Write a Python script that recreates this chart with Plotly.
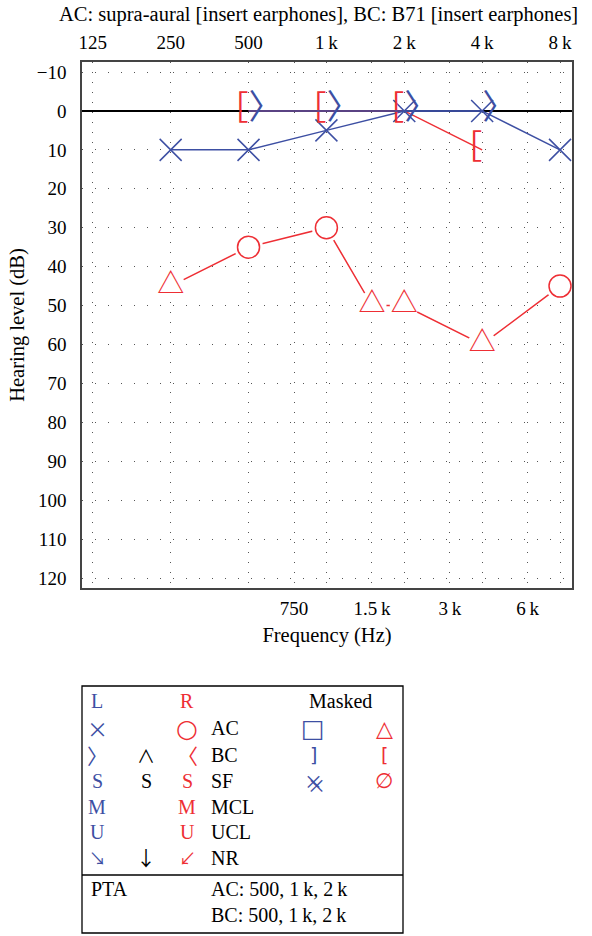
import math
import plotly.graph_objects as go

# ---------------- data ----------------
title_text = "AC: supra-aural [insert earphones], BC: B71 [insert earphones]"
top_tick_freqs = [125, 250, 500, 1000, 2000, 4000, 8000]
top_tick_labels = ["125", "250", "500", "1\u2009k", "2\u2009k", "4\u2009k", "8\u2009k"]
bottom_tick_freqs = [750, 1500, 3000, 6000]
bottom_tick_labels = ["750", "1.5\u2009k", "3\u2009k", "6\u2009k"]
y_ticks = list(range(-10, 121, 10))

# Left ear, air conduction, unmasked (X)
left_ac_freq = [250, 500, 1000, 2000, 4000, 8000]
left_ac_db = [10, 10, 5, 0, 0, 10]
# Left ear, bone conduction, unmasked (>)
left_bc_freq = [500, 1000, 2000, 4000]
left_bc_db = [0, 0, 0, 0]
# Right ear, air conduction (O unmasked, triangle masked)
right_ac_freq = [250, 500, 1000, 1500, 2000, 4000, 8000]
right_ac_db = [45, 35, 30, 50, 50, 60, 45]
right_ac_masked = [True, False, False, True, True, True, False]
# Right ear, bone conduction, masked ([)
right_bc_freq = [500, 1000, 2000, 4000]
right_bc_db = [0, 0, 0, 10]

BLUE = "#3d4fa3"
RED = "#ee2e34"
SERIF = "Liberation Serif"
SYM = "DejaVu Sans"
CJK = "Noto Sans CJK JP"

fig = go.Figure()

# lines
fig.add_trace(go.Scatter(x=left_bc_freq, y=left_bc_db, mode="lines",
                         line=dict(color=BLUE, width=1.5), hoverinfo="skip", xaxis="x2"))
fig.add_trace(go.Scatter(x=right_bc_freq, y=right_bc_db, mode="lines",
                         line=dict(color=RED, width=1.5), hoverinfo="skip"))
fig.add_trace(go.Scatter(x=left_ac_freq, y=left_ac_db, mode="lines",
                         line=dict(color=BLUE, width=1.5), hoverinfo="skip"))
fig.add_trace(go.Scatter(x=right_ac_freq, y=right_ac_db, mode="lines",
                         line=dict(color=RED, width=1.5), hoverinfo="skip"))

# white halo around right-ear AC symbols: lines stop short of the symbols
fig.add_trace(go.Scatter(x=right_ac_freq, y=right_ac_db, mode="markers",
                         marker=dict(symbol="circle", size=29, color="white",
                                     line=dict(width=0)), hoverinfo="skip"))

# markers
fig.add_trace(go.Scatter(x=left_ac_freq, y=left_ac_db, mode="markers",
                         marker=dict(symbol="x-thin-open", size=22, color=BLUE,
                                     line=dict(color=BLUE, width=1.5))))
ac_o_f = [f for f, m in zip(right_ac_freq, right_ac_masked) if not m]
ac_o_v = [v for v, m in zip(right_ac_db, right_ac_masked) if not m]
ac_t_f = [f for f, m in zip(right_ac_freq, right_ac_masked) if m]
ac_t_v = [v for v, m in zip(right_ac_db, right_ac_masked) if m]
fig.add_trace(go.Scatter(x=ac_o_f, y=ac_o_v, mode="markers",
                         marker=dict(symbol="circle", size=22, color="white",
                                     line=dict(color=RED, width=1.5))))
fig.add_trace(go.Scatter(x=ac_t_f, y=ac_t_v, mode="text",
                         text=["\u25b3"] * len(ac_t_f), textposition="middle center",
                         textfont=dict(family=CJK, size=27, color=RED)))
fig.add_trace(go.Scatter(x=left_bc_freq, y=left_bc_db, mode="text",
                         text=["\u3009"] * len(left_bc_freq), textposition="middle right",
                         textfont=dict(family=CJK, size=34, color=BLUE)))
fig.add_trace(go.Scatter(x=right_bc_freq, y=right_bc_db, mode="text",
                         text=["\uff3b"] * len(right_bc_freq), textposition="middle left",
                         textfont=dict(family=CJK, size=32, color=RED)))

# ---------------- layout ----------------
L, R, T, B = 82, 572, 62, 588
W, H = 592, 936
xr = [math.log10(125) - 0.0417, math.log10(8000) + 0.0463]

fig.update_layout(
    width=W, height=H,
    margin=dict(l=L, r=W - R, t=T, b=H - B),
    paper_bgcolor="white", plot_bgcolor="white",
    showlegend=False,
    font=dict(family=SERIF, size=19, color="black"),
    xaxis=dict(type="log", range=xr, tickvals=bottom_tick_freqs, ticktext=bottom_tick_labels,
               showline=True, linecolor="#444444", linewidth=1.5, mirror=False,
               ticks="", tickfont=dict(size=19), ticklabelstandoff=2,
               title=dict(text="Frequency (Hz)", font=dict(size=20.5), standoff=10),
               zeroline=False, showgrid=True, gridcolor="#555555", griddash="1px,9px"),
    xaxis2=dict(type="log", range=xr, overlaying="x", side="top",
                tickvals=top_tick_freqs, ticktext=top_tick_labels,
                showline=True, linecolor="#444444", linewidth=1.5,
                ticks="", tickfont=dict(size=19), ticklabelstandoff=4,
                zeroline=False, showgrid=True, gridcolor="#555555", griddash="1px,9px"),
    yaxis=dict(range=[122.57, -12.57], tickvals=y_ticks,
               showline=True, linecolor="#444444", linewidth=1.5, mirror=True,
               ticks="", tickfont=dict(size=19), ticklabelstandoff=10,
               zeroline=True, zerolinecolor="black", zerolinewidth=1.5,
               title=dict(text="Hearing level (dB)", font=dict(size=20.5), standoff=7),
               showgrid=True, gridcolor="#555555", griddash="1px,12px"),
)


def px(x):
    return (x - L) / (R - L)


def py(y):
    return (B - y) / (B - T)


anns = []


def ann(x, y, text, color="black", size=20, family=SERIF, xanchor="center"):
    anns.append(dict(x=px(x), y=py(y), xref="paper", yref="paper", text=text,
                     showarrow=False, xanchor=xanchor, yanchor="middle",
                     font=dict(family=family, size=size, color=color)))


ann(318, 15, title_text, size=20.5)

# legend table
rows_y = [701, 728, 755, 781, 807, 832, 858]
col_l, col_mid, col_r, col_txt, col_mb, col_mr = 97, 146, 187, 209, 313, 384

legend_labels = ["", "AC", "BC", "SF", "MCL", "UCL", "NR"]
left_syms = [("L", SERIF, 20), ("\u00d7", CJK, 21), ("\u3009", CJK, 21), ("S", SERIF, 20),
             ("M", SERIF, 20), ("U", SERIF, 20), ("\u2198", CJK, 17)]
mid_syms = [None, None, ("\u2227", CJK, 18), ("S", SERIF, 20), None, None, ("\u2193", CJK, 20)]
right_syms = [("R", SERIF, 20), ("\u25cb", SYM, 25), ("\u3008", CJK, 21), ("S", SERIF, 20),
              ("M", SERIF, 20), ("U", SERIF, 20), ("\u2199", CJK, 17)]
masked_left = [None, ("\u25a1", SYM, 25), ("]", SYM, 19), ("\u00d7", CJK, 19), None, None, None]
masked_right = [None, ("\u25b3", SYM, 22), ("[", SYM, 19), ("\u2205", SYM, 21), None, None, None]

for i, y in enumerate(rows_y):
    s = left_syms[i]
    ann(col_l, y, s[0], BLUE, s[2], s[1])
    if mid_syms[i]:
        s = mid_syms[i]
        ann(col_mid, y, s[0], "black", s[2], s[1])
    s = right_syms[i]
    ann(col_r, y, s[0], RED, s[2], s[1])
    if legend_labels[i]:
        ann(col_txt, y, legend_labels[i], xanchor="left")
    if masked_left[i]:
        s = masked_left[i]
        ann(col_mb, y, s[0], BLUE, s[2], s[1])
    if masked_right[i]:
        s = masked_right[i]
        ann(col_mr, y, s[0], RED, s[2], s[1])
# second stroke of masked SF symbol
ann(col_mb + 3, rows_y[3] + 3, "\u00d7", BLUE, 19, CJK)
ann(340, rows_y[0], "Masked")
ann(89, 889, "PTA", xanchor="left")
ann(col_txt, 889, "AC: 500, 1\u2009k, 2\u2009k", xanchor="left")
ann(col_txt, 915, "BC: 500, 1\u2009k, 2\u2009k", xanchor="left")

fig.update_layout(annotations=anns, shapes=[
    dict(type="rect", xref="paper", yref="paper", x0=px(82), x1=px(403), y0=py(686), y1=py(933),
         line=dict(color="black", width=1.3)),
    dict(type="line", xref="paper", yref="paper", x0=px(82), x1=px(403), y0=py(875), y1=py(875),
         line=dict(color="black", width=1.3)),
])

fig.write_html("out.html", config={"displayModeBar": False},
               post_script="document.body.style.margin='0';document.body.style.overflow='hidden';")
